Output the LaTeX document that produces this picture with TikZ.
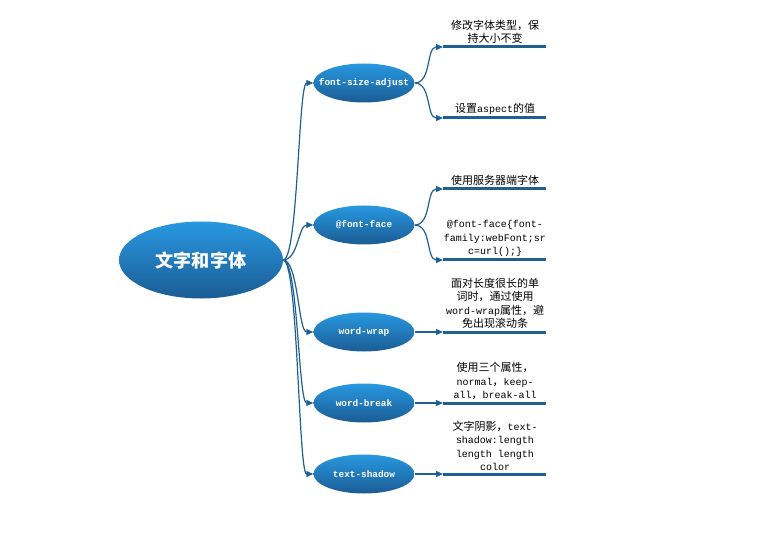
\documentclass[tikz,border=0pt]{standalone}
\usepackage{fontspec}
\setmonofont{Liberation Mono}
\newfontfamily\cjk[Scale=1.1]{Noto Sans CJK SC}
\usetikzlibrary{shapes.geometric,arrows.meta}
\definecolor{topblue}{RGB}{40,152,224}
\definecolor{botblue}{RGB}{27,92,148}
\definecolor{linkblue}{RGB}{30,96,146}
\tikzset{root/.style={ellipse,inner sep=0pt,minimum width=164pt,minimum height=77pt,top color=topblue,bottom color=botblue,text=white,font=\cjk\bfseries\fontsize{16.5}{20}\selectfont}}
\tikzset{topic/.style={ellipse,inner ysep=0pt,inner xsep=-10pt,minimum width=101pt,minimum height=39pt,top color=topblue,bottom color=botblue,text=white,font=\ttfamily\bfseries\fontsize{9.4}{11}\selectfont}}
\tikzset{link/.style={draw=linkblue,line width=1.2pt,-{Triangle[length=7pt,width=6pt]}}}
\tikzset{leaf/.style={draw=linkblue,line width=3pt}}
\tikzset{note/.style={anchor=south,inner sep=0pt,align=center,font=\ttfamily\fontsize{10}{13.5}\selectfont}}

\begin{document}
\begin{tikzpicture}[x=1pt,y=-1pt]
    \useasboundingbox (0,0) rectangle (760,537);
    \node[root] (wz) at (201,260) {文字和字体};
    \node[topic] (fsa) at (364,83) {font-size-adjust};
    \node[topic] (ff) at (364,225) {@font-face};
    \node[topic] (ww) at (364,332) {word-wrap};
    \node[topic] (wb) at (364,403) {word-break};
    \node[topic] (ts) at (364,474) {text-shadow};
    \draw[link] (wz.east) .. controls +(15,0) and +(-15,0) .. (fsa.west);
    \draw[link] (wz.east) .. controls +(15,0) and +(-15,0) .. (ff.west);
    \draw[link] (wz.east) .. controls +(15,0) and +(-15,0) .. (ww.west);
    \draw[link] (wz.east) .. controls +(15,0) and +(-15,0) .. (wb.west);
    \draw[link] (wz.east) .. controls +(15,0) and +(-15,0) .. (ts.west);
    \coordinate (fsa1) at (443,47);
    \coordinate (fsa1e) at (546,47);
    \coordinate (fsa2) at (443,118);
    \coordinate (fsa2e) at (546,118);
    \coordinate (ff1) at (443,189);
    \coordinate (ff1e) at (546,189);
    \coordinate (ff2) at (443,260);
    \coordinate (ff2e) at (546,260);
    \coordinate (ww1) at (443,332);
    \coordinate (ww1e) at (546,332);
    \coordinate (wb1) at (443,403);
    \coordinate (wb1e) at (546,403);
    \coordinate (ts1) at (443,474);
    \coordinate (ts1e) at (546,474);
    \draw[leaf] (fsa1) -- (fsa1e);
    \draw[leaf] (fsa2) -- (fsa2e);
    \draw[leaf] (ff1) -- (ff1e);
    \draw[leaf] (ff2) -- (ff2e);
    \draw[leaf] (ww1) -- (ww1e);
    \draw[leaf] (wb1) -- (wb1e);
    \draw[leaf] (ts1) -- (ts1e);
    \draw[link] (fsa.east) .. controls +(17,0) and +(-17,0) .. (fsa1);
    \draw[link] (fsa.east) .. controls +(17,0) and +(-17,0) .. (fsa2);
    \draw[link] (ff.east) .. controls +(17,0) and +(-17,0) .. (ff1);
    \draw[link] (ff.east) .. controls +(17,0) and +(-17,0) .. (ff2);
    \draw[link] (ww.east) -- (ww1);
    \draw[link] (wb.east) -- (wb1);
    \draw[link] (ts.east) -- (ts1);
    \node[note] (fsa1t) at (495,44) {{\cjk 修改字体类型，保}\\{\cjk 持大小不变}};
    \node[note] (fsa2t) at (495,115) {{\cjk 设置}aspect{\cjk 的值}};
    \node[note] (ff1t) at (495,186) {{\cjk 使用服务器端字体}};
    \node[note] (ff2t) at (495,257) {@font-face\{font-\\family:webFont;sr\\c=url();\}};
    \node[note] (ww1t) at (495,329) {{\cjk 面对长度很长的单}\\{\cjk 词时，通过使用}\\word-wrap{\cjk 属性，避}\\{\cjk 免出现滚动条}};
    \node[note] (wb1t) at (495,400) {{\cjk 使用三个属性，}\\normal{\cjk ，}keep-\\all{\cjk ，}break-all};
    \node[note] (ts1t) at (495,471) {{\cjk 文字阴影，}text-\\shadow:length\\length length\\color};
\end{tikzpicture}
\end{document}
